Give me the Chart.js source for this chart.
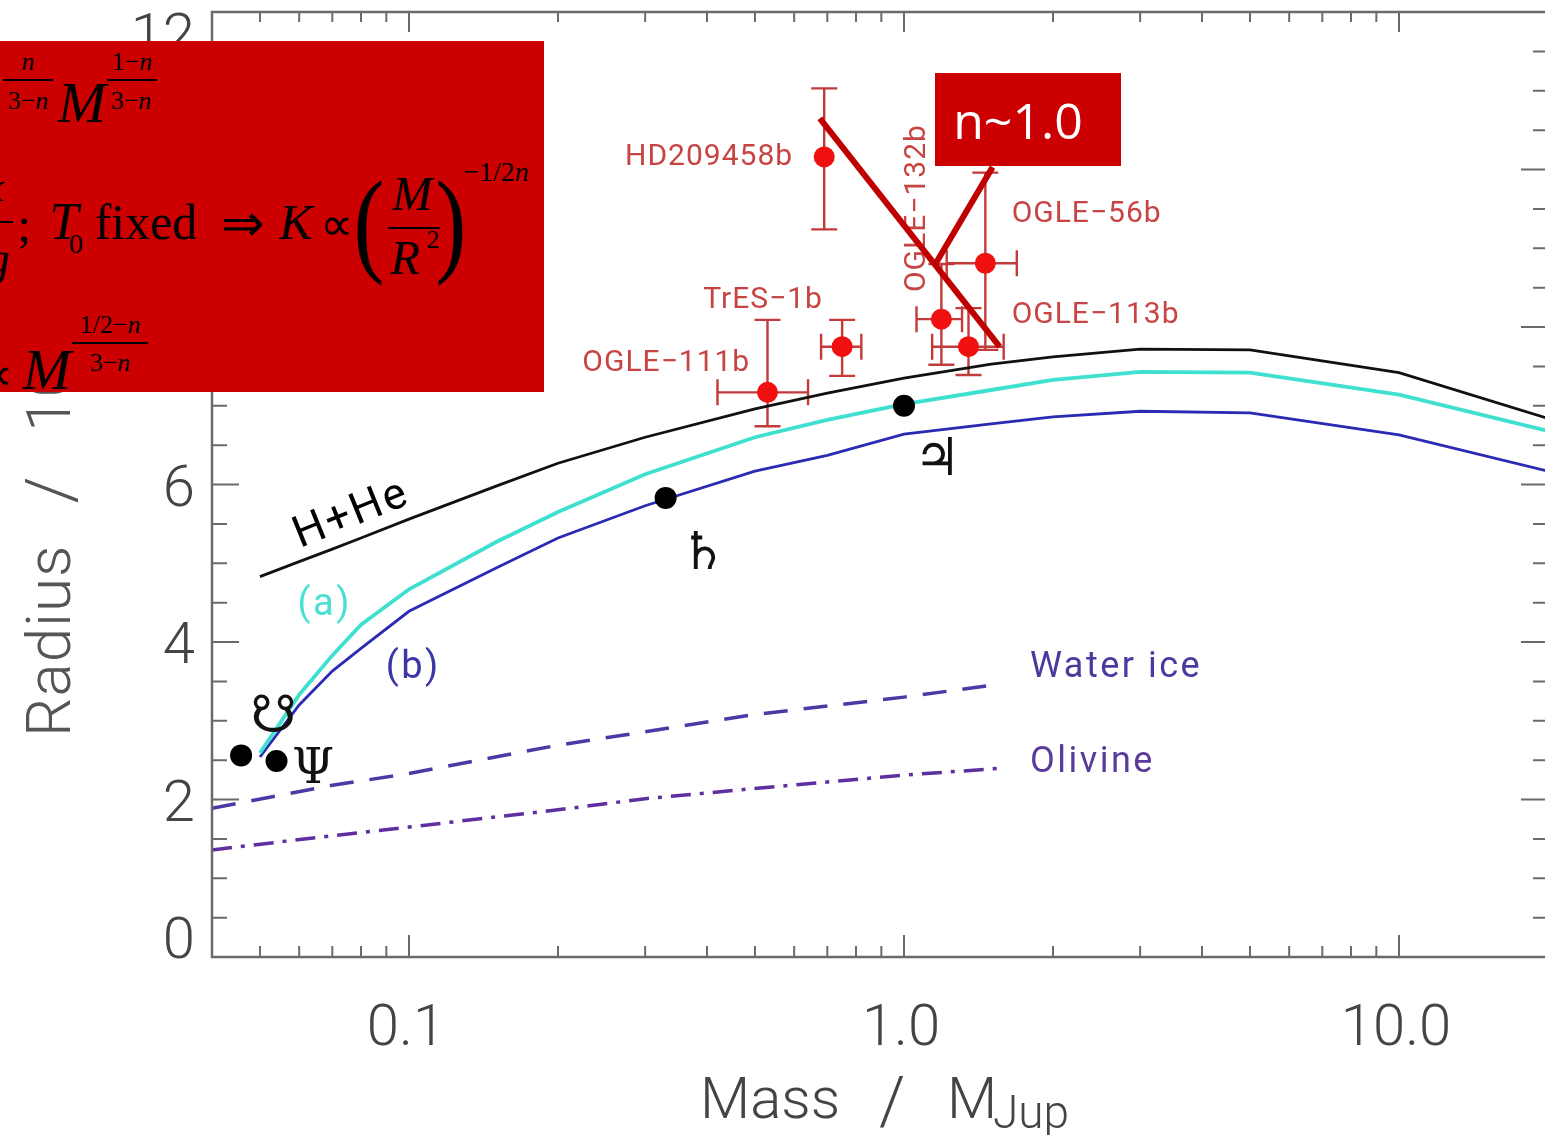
<!DOCTYPE html>
<html>
<head>
<meta charset="utf-8">
<script src="https://cdn.jsdelivr.net/npm/chart.js@4.4.1/dist/chart.umd.min.js"></script>
<style>
  html, body { margin: 0; padding: 0; background: #fff; overflow: hidden; }
  #wrap { position: relative; width: 1545px; height: 1135px; overflow: hidden; }
  #plot { position: absolute; left: 0; top: 0; z-index: 1; }
  .box { position: absolute; background: #cc0000; overflow: hidden; z-index: 2; }
  #formula { left: 0; top: 41px; width: 544px; height: 351px; }
  #formula span { position: absolute; font-family: 'Liberation Serif', 'Times New Roman', serif; color: #000;
    line-height: 1; white-space: nowrap; transform: translate(-50%, -50%); }
  #formula .i { font-style: italic; }
  #formula .bar { position: absolute; height: 2px; background: #000; }
  #nbox { left: 935px; top: 73px; width: 186px; height: 93px; display: flex; align-items: center;
    justify-content: center; box-sizing: border-box; padding-right: 20px;
    font-family: 'Open Sans', 'Noto Sans', sans-serif; font-size: 50px; color: #fff; }
</style>
</head>
<body>
<div id="wrap">
  <canvas id="plot" width="1560" height="1135" style="width:1560px;height:1135px"></canvas>

  <div id="formula" class="box">
    <span class="i" style="left:28px;top:21px;font-size:26px">n</span>
    <div class="bar" style="left:3px;top:38px;width:50px"></div>
    <span style="left:28px;top:60px;font-size:26px">3−<i>n</i></span>
    <span class="i" style="left:82px;top:62px;font-size:58px">M</span>
    <span style="left:132px;top:21px;font-size:26px">1−<i>n</i></span>
    <div class="bar" style="left:107px;top:38px;width:50px"></div>
    <span style="left:131px;top:60px;font-size:26px">3−<i>n</i></span>

    <span class="i" style="left:-6px;top:146px;font-size:42px">κ</span>
    <div class="bar" style="left:0;top:180px;width:13px"></div>
    <span class="i" style="left:-2px;top:218px;font-size:46px">g</span>
    <span style="left:24px;top:184px;font-size:48px">;</span>
    <span class="i" style="left:64px;top:181px;font-size:52px">T</span>
    <span style="left:76px;top:203px;font-size:28px">0</span>
    <span style="left:146px;top:181px;font-size:50px">fixed</span>
    <span style="left:243px;top:183px;font-size:52px">⇒</span>
    <span class="i" style="left:296px;top:181px;font-size:50px">K</span>
    <span style="left:336px;top:184px;font-size:46px">∝</span>
    <span style="left:369px;top:181px;font-size:116px;transform:translate(-50%,-50%) scaleX(0.8)">(</span>
    <span class="i" style="left:412px;top:153px;font-size:48px">M</span>
    <div class="bar" style="left:388px;top:186px;width:52px"></div>
    <span class="i" style="left:405px;top:217px;font-size:48px">R</span>
    <span style="left:433px;top:199px;font-size:26px">2</span>
    <span style="left:451px;top:181px;font-size:116px;transform:translate(-50%,-50%) scaleX(0.8)">)</span>
    <span style="left:496px;top:131px;font-size:28px">−1/2<i>n</i></span>

    <span style="left:-4px;top:334px;font-size:46px">∝</span>
    <span class="i" style="left:47px;top:329px;font-size:58px">M</span>
    <span style="left:110px;top:284px;font-size:26px">1/2−<i>n</i></span>
    <div class="bar" style="left:72px;top:301px;width:76px"></div>
    <span style="left:110px;top:322px;font-size:26px">3−<i>n</i></span>
  </div>

  <div id="nbox" class="box">n~1.0</div>
</div>

<script>
// Model curves (mass in Jupiter masses, radius in 10^4 km).
const massGrid = [0.05, 0.06, 0.07, 0.08, 0.1, 0.15, 0.2, 0.3, 0.5, 0.7, 1, 1.5, 2, 3, 5, 10, 20];
const hheRadius = [4.83, 5.02, 5.18, 5.32, 5.56, 5.98, 6.27, 6.60, 6.96, 7.16, 7.35, 7.53, 7.62, 7.72, 7.71, 7.42, 6.84];
const modelARadius = [2.59, 3.33, 3.83, 4.22, 4.67, 5.27, 5.65, 6.13, 6.60, 6.82, 7.02, 7.20, 7.33, 7.43, 7.42, 7.14, 6.68];
const modelBRadius = [2.54, 3.20, 3.63, 3.92, 4.39, 4.94, 5.32, 5.73, 6.17, 6.37, 6.64, 6.77, 6.86, 6.93, 6.91, 6.63, 6.17];

const waterMass = [0.04, 0.07, 0.1, 0.2, 0.3, 0.5, 1, 1.5];
const waterRadius = [1.89, 2.18, 2.33, 2.69, 2.86, 3.08, 3.30, 3.45];
const olivineMass = [0.04, 0.07, 0.1, 0.2, 0.3, 0.5, 1, 1.6];
const olivineRadius = [1.36, 1.54, 1.65, 1.87, 2.01, 2.14, 2.31, 2.40];

// Solar system giants: Uranus, Neptune, Saturn, Jupiter.
const planetMass = [0.0458, 0.054, 0.33, 1.0];
const planetRadius = [2.56, 2.49, 5.83, 7.0];
const planetSymbols = ['☋', 'Ψ', '♄', '♃'];

// Transiting planets with error bars.
const exoNames = ['HD209458b', 'OGLE−111b', 'TrES−1b', 'OGLE−132b', 'OGLE−113b', 'OGLE−56b'];
const exoMass = [0.69, 0.53, 0.75, 1.19, 1.35, 1.46];
const exoMassLo = [0.69, 0.42, 0.68, 1.06, 1.14, 1.22];
const exoMassHi = [0.69, 0.64, 0.82, 1.31, 1.59, 1.69];
const exoRadius = [10.16, 7.17, 7.75, 8.10, 7.75, 8.81];
const exoRadiusLo = [9.24, 6.74, 7.38, 7.52, 7.39, 7.71];
const exoRadiusHi = [11.03, 8.09, 8.09, 8.80, 8.24, 9.96];

// Axes.
const xTickValues = [0.1, 1, 10];
const xTickLabels = ['0.1', '1.0', '10.0'];
const yTickValues = [0, 2, 4, 6, 8, 10, 12];

// Where the annotations sit, in data units.
const exoLabelSpots = [
  {m: 0.597, r: 10.15, align: 'right'},
  {m: 0.224, r: 7.54, align: 'left'},
  {m: 0.393, r: 8.34, align: 'left'},
  {m: 1.067, r: 9.51, align: 'center', rot: -90},
  {m: 1.65, r: 8.14, align: 'left'},
  {m: 1.65, r: 9.43, align: 'left'},
];
const symbolSpots = [
  {m: 0.0533, r: 3.03, font: '52px "DejaVu Sans"'},
  {m: 0.064, r: 2.37, font: '48px "DejaVu Serif"'},
  {m: 0.393, r: 5.10, font: '52px "DejaVu Sans"'},
  {m: 1.166, r: 6.29, font: '52px "DejaVu Serif"'},
];
const curveLabels = [
  {text: 'H+He', m: 0.0767, r: 5.61, color: '#000', size: 44, rot: -22, align: 'center'},
  {text: '(a)', m: 0.0676, r: 4.46, color: '#48e0d2', size: 38, align: 'center'},
  {text: '(b)', m: 0.102, r: 3.66, color: '#3a36a8', size: 38, align: 'center'},
  {text: 'Water ice', m: 1.797, r: 3.67, color: '#4a3a9e', size: 36, align: 'left'},
  {text: 'Olivine', m: 1.797, r: 2.46, color: '#5a3a9a', size: 36, align: 'left'},
];
const slopeLines = [
  [[0.676, 10.65], [1.56, 7.75]],
  [[1.51, 10.03], [1.155, 8.79]],
];

const pts = (xs, ys) => xs.map((x, i) => ({x, y: ys[i]}));

const axisFont = (size, weight) => `${weight || 300} ${size}px Roboto, "DejaVu Sans", sans-serif`;

function drawText(ctx, str, x, y, opts) {
  ctx.save();
  ctx.translate(x, y);
  if (opts.rot) ctx.rotate(opts.rot * Math.PI / 180);
  ctx.font = opts.font;
  ctx.fillStyle = opts.color || '#444';
  ctx.textAlign = opts.align || 'center';
  ctx.textBaseline = opts.baseline || 'middle';
  if (opts.spacing) ctx.letterSpacing = opts.spacing;
  ctx.fillText(str, 0, 0);
  ctx.restore();
}

const decor = {
  id: 'decor',
  beforeDatasetsDraw(chart) {
    const {ctx, scales: {x, y}} = chart;
    ctx.save();
    ctx.strokeStyle = '#c23a3a';
    ctx.lineWidth = 2.4;
    const cap = 13;
    exoMass.forEach((m, i) => {
      const px = x.getPixelForValue(m);
      const py = y.getPixelForValue(exoRadius[i]);
      const yHi = y.getPixelForValue(exoRadiusHi[i]);
      const yLo = y.getPixelForValue(exoRadiusLo[i]);
      ctx.beginPath();
      ctx.moveTo(px, yHi); ctx.lineTo(px, yLo);
      ctx.moveTo(px - cap, yHi); ctx.lineTo(px + cap, yHi);
      ctx.moveTo(px - cap, yLo); ctx.lineTo(px + cap, yLo);
      if (exoMassHi[i] > exoMassLo[i]) {
        const xLo = x.getPixelForValue(exoMassLo[i]);
        const xHi = x.getPixelForValue(exoMassHi[i]);
        ctx.moveTo(xLo, py); ctx.lineTo(xHi, py);
        ctx.moveTo(xLo, py - cap); ctx.lineTo(xLo, py + cap);
        ctx.moveTo(xHi, py - cap); ctx.lineTo(xHi, py + cap);
      }
      ctx.stroke();
    });
    ctx.restore();
  },
  afterDraw(chart) {
    const {ctx, chartArea: a, scales: {x, y}} = chart;
    ctx.save();

    // frame
    ctx.strokeStyle = '#6a6a6a';
    ctx.lineWidth = 2.5;
    ctx.strokeRect(a.left, a.top, a.right - a.left, a.bottom - a.top);

    // x ticks, bottom and top, pointing inward
    ctx.lineWidth = 2;
    ctx.beginPath();
    [0.01, 0.1, 1, 10].forEach(dec => {
      for (let k = 1; k <= 9; k++) {
        const v = k * dec;
        if (v < x.min || v > x.max) continue;
        const px = x.getPixelForValue(v);
        const major = k === 1;
        ctx.moveTo(px, a.bottom); ctx.lineTo(px, a.bottom - (major ? 22 : 11));
        ctx.moveTo(px, a.top); ctx.lineTo(px, a.top + (major ? 20 : 10));
      }
    });
    // y ticks, left and right
    for (let v = 0; v <= 12; v += 0.5) {
      const py = y.getPixelForValue(v);
      const len = v % 2 === 0 ? 27 : 15;
      ctx.moveTo(a.left, py); ctx.lineTo(a.left + len, py);
      ctx.moveTo(a.right, py); ctx.lineTo(a.right - len, py);
    }
    ctx.stroke();

    // tick labels
    xTickValues.forEach((v, i) => {
      drawText(ctx, xTickLabels[i], x.getPixelForValue(v) - 3, 1045,
        {font: axisFont(58), baseline: 'alphabetic', color: '#444'});
    });
    yTickValues.forEach(v => {
      const py = y.getPixelForValue(v);
      let base = py + 21;
      if (v === y.min) base = a.bottom + 1;
      if (v === y.max) base = a.top + 42;
      drawText(ctx, String(v), 195, base, {font: axisFont(58), align: 'right', baseline: 'alphabetic', color: '#444'});
    });

    // axis titles
    drawText(ctx, 'Mass', 700, 1118, {font: axisFont(58), align: 'left', baseline: 'alphabetic', color: '#444'});
    drawText(ctx, '/', 892, 1124, {font: axisFont(66), baseline: 'alphabetic', color: '#444'});
    drawText(ctx, 'M', 947, 1118, {font: axisFont(58), align: 'left', baseline: 'alphabetic', color: '#444'});
    drawText(ctx, 'Jup', 993, 1128, {font: axisFont(46), align: 'left', baseline: 'alphabetic', color: '#444'});
    drawText(ctx, 'Radius', 70, 737, {font: axisFont(62), align: 'left', baseline: 'alphabetic', rot: -90, color: '#555', spacing: '1px'});
    drawText(ctx, '/', 74, 490, {font: axisFont(68), align: 'center', baseline: 'alphabetic', rot: -90, color: '#555'});
    drawText(ctx, '10⁴ km', 70, 432, {font: axisFont(62), align: 'left', baseline: 'alphabetic', rot: -90, color: '#555'});

    // curve labels
    curveLabels.forEach(l => {
      drawText(ctx, l.text, x.getPixelForValue(l.m), y.getPixelForValue(l.r),
        {font: axisFont(l.size, 400), color: l.color, align: l.align, rot: l.rot, spacing: '2.5px'});
    });

    // planet symbols
    planetSymbols.forEach((s, i) => {
      const sp = symbolSpots[i];
      drawText(ctx, s, x.getPixelForValue(sp.m), y.getPixelForValue(sp.r), {font: sp.font, color: '#111'});
    });

    // exoplanet names
    exoNames.forEach((name, i) => {
      const sp = exoLabelSpots[i];
      drawText(ctx, name, x.getPixelForValue(sp.m), y.getPixelForValue(sp.r),
        {font: axisFont(30, 400), color: '#c84444', align: sp.align, rot: sp.rot, spacing: '1px'});
    });

    // n~1.0 slope annotation lines
    ctx.strokeStyle = '#c00000';
    ctx.lineWidth = 6;
    ctx.lineCap = 'butt';
    slopeLines.forEach(([p, q]) => {
      ctx.beginPath();
      ctx.moveTo(x.getPixelForValue(p[0]), y.getPixelForValue(p[1]));
      ctx.lineTo(x.getPixelForValue(q[0]), y.getPixelForValue(q[1]));
      ctx.stroke();
    });

    ctx.restore();
  },
};

const lineSet = (label, data, color, width, dash, order) => ({
  label, data, showLine: true, borderColor: color, borderWidth: width, borderDash: dash || [],
  pointRadius: 0, tension: 0, fill: false, order,
});

new Chart(document.getElementById('plot'), {
  type: 'scatter',
  data: {
    datasets: [
      {label: 'Transiting planets', data: pts(exoMass, exoRadius), pointRadius: 10.5,
        pointBackgroundColor: '#f01010', pointBorderWidth: 0, order: 0},
      {label: 'Solar system', data: pts(planetMass, planetRadius), pointRadius: 11,
        pointBackgroundColor: '#000', pointBorderWidth: 0, order: 1},
      lineSet('H+He', pts(massGrid, hheRadius), '#111', 2.8, null, 2),
      lineSet('(a)', pts(massGrid, modelARadius), '#40e0d0', 3.8, null, 3),
      lineSet('(b)', pts(massGrid, modelBRadius), '#2a2ab4', 2.8, null, 4),
      lineSet('Water ice', pts(waterMass, waterRadius), '#4a3aa6', 3.5, [24, 16], 5),
      lineSet('Olivine', pts(olivineMass, olivineRadius), '#5e2fa0', 3.5, [20, 9, 4, 9], 6),
    ],
  },
  options: {
    responsive: false,
    animation: false,
    layout: {padding: {left: 0, right: 12, top: 12, bottom: 0}},
    scales: {
      x: {
        type: 'logarithmic', min: 0.04, max: 20,
        ticks: {display: false}, grid: {display: false}, border: {display: false},
        afterFit: (s) => { s.height = 178; },
      },
      y: {
        min: 0, max: 12,
        ticks: {display: false}, grid: {display: false}, border: {display: false},
        afterFit: (s) => { s.width = 212; },
      },
    },
    plugins: {legend: {display: false}, tooltip: {enabled: false}},
  },
  plugins: [decor],
});
</script>
</body>
</html>
